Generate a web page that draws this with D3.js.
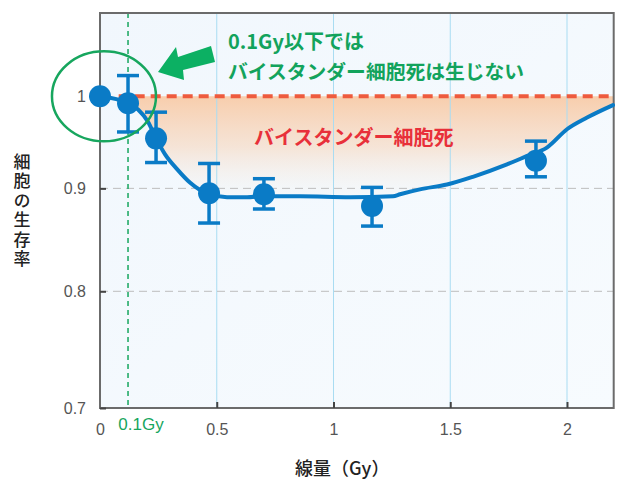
<!DOCTYPE html>
<html><head><meta charset="utf-8">
<script src="https://cdn.jsdelivr.net/npm/d3@7"></script>
<style>
html,body{margin:0;padding:0;background:#fff;}
svg{display:block;}
</style></head>
<body>
<script>
// ---- data ----
const xTicks = [0.5, 1, 1.5, 2];
const xTickLabels = ["0.5", "1", "1.5", "2"];
const yTicks = [1, 0.9, 0.8, 0.7];
const yTickLabels = ["1", "0.9", "0.8", "0.7"];
const pointDose = [0, 0.12, 0.24, 0.467, 0.702, 1.165, 1.867];
const pointSurv = [1.0, 0.992, 0.953, 0.895, 0.894, 0.882, 0.929];
const errLow  = [null, 0.960, 0.927, 0.865, 0.879, 0.862, 0.912];
const errHigh = [null, 1.024, 0.982, 0.926, 0.910, 0.901, 0.950];
const curveDose = [0, 0.12, 0.163, 0.206, 0.24, 0.278, 0.33, 0.385, 0.467, 0.544, 0.63, 0.698, 0.857, 1.071, 1.255, 1.285, 1.37, 1.486, 1.597, 1.743, 1.829, 1.914, 2.0, 2.086, 2.197];
const curveSurv = [1.0, 0.992, 0.985, 0.971, 0.953, 0.936, 0.920, 0.906, 0.894, 0.891, 0.891, 0.892, 0.892, 0.891, 0.892, 0.894, 0.899, 0.904, 0.912, 0.925, 0.934, 0.943, 0.963, 0.976, 0.990];
const thresholdDose = 0.12;
const thresholdLabel = "0.1Gy";
const noteLines = ["0.1Gy以下では", "バイスタンダー細胞死は生じない"];
const areaLabel = "バイスタンダー細胞死";
const yLabel = "細胞の生存率";
const xLabel = "線量（Gy）";

// ---- layout ----
const W = 622, H = 480;
const L = 100, R = 613.7, T = 13, B = 408;
const x = d3.scaleLinear().domain([0, 2.2]).range([L, R]);
const y = d3.scaleLog().domain([0.7, 1.1]).range([B, T]);

const svg = d3.select("body").append("svg").attr("width", W).attr("height", H);
const defs = svg.append("defs");
const bg = defs.append("linearGradient").attr("id","bg").attr("x1","0").attr("y1","0").attr("x2","1").attr("y2","1");
bg.append("stop").attr("offset","0").attr("stop-color","#f1f7fd");
bg.append("stop").attr("offset","1").attr("stop-color","#f7fbfe");
const fg = defs.append("linearGradient").attr("id","fillg").attr("gradientUnits","userSpaceOnUse")
  .attr("x1",0).attr("x2",0).attr("y1", y(1)).attr("y2", y(0.89));
fg.append("stop").attr("offset","0").attr("stop-color","#f8cba8").attr("stop-opacity",0.95);
fg.append("stop").attr("offset","0.5").attr("stop-color","#f6dfcd").attr("stop-opacity",0.8);
fg.append("stop").attr("offset","1").attr("stop-color","#f3f6f6").attr("stop-opacity",0.2);

const JP = "'Noto Sans CJK JP', 'Noto Sans', sans-serif";
const NUM = "'Liberation Sans', Arial, sans-serif";

// plot background
svg.append("rect").attr("x", L).attr("y", T).attr("width", R - L).attr("height", B - T).attr("fill", "url(#bg)");

// orange area between 1 and curve
const curveData = curveDose.map((d, i) => [d, curveSurv[i]]).filter(d => d[0] >= thresholdDose);
svg.append("path").datum(curveData)
  .attr("d", d3.area().x(d => x(d[0])).y0(y(1)).y1(d => y(d[1])).curve(d3.curveMonotoneX))
  .attr("fill", "url(#fillg)");

// vertical grid
svg.append("g").selectAll("line").data(xTicks).join("line")
  .attr("x1", d => x(d)).attr("x2", d => x(d)).attr("y1", T).attr("y2", B)
  .attr("stroke", "#a9dcf2").attr("stroke-width", 1);
// horizontal dashed grid
svg.append("g").selectAll("line").data([0.9, 0.8]).join("line")
  .attr("x1", L).attr("x2", R).attr("y1", d => y(d)).attr("y2", d => y(d))
  .attr("stroke", "#bdbdbd").attr("stroke-width", 1).attr("stroke-dasharray", "8,5");

// threshold line
svg.append("line").attr("x1", x(thresholdDose)).attr("x2", x(thresholdDose)).attr("y1", T).attr("y2", B)
  .attr("stroke", "#17a65e").attr("stroke-width", 1.5).attr("stroke-dasharray", "5,4");

// red dashed line at 1
svg.append("line").attr("x1", x(0.08)).attr("x2", R).attr("y1", y(1)).attr("y2", y(1))
  .attr("stroke", "#ee5b3e").attr("stroke-width", 4).attr("stroke-dasharray", "10,6");

// frame
svg.append("rect").attr("x", L).attr("y", T).attr("width", R - L).attr("height", B - T)
  .attr("fill", "none").attr("stroke", "#6b6b6b").attr("stroke-width", 2);

// axes (ticks inward)
const yAxis = d3.axisLeft(y).tickValues(yTicks).tickFormat((d, i) => yTickLabels[i]).tickSize(-6).tickPadding(14);
const gy = svg.append("g").attr("transform", `translate(${L},0)`).call(yAxis);
gy.select(".domain").remove();
gy.selectAll(".tick line").attr("stroke", "#444").attr("stroke-width", 2);
gy.selectAll(".tick text").attr("font-family", NUM).attr("font-size", 16).attr("fill", "#555");

const xAxis = d3.axisBottom(x).tickValues([0].concat(xTicks)).tickFormat((d, i) => ["0"].concat(xTickLabels)[i]).tickSize(-6).tickPadding(16);
const gx = svg.append("g").attr("transform", `translate(0,${B})`).call(xAxis);
gx.select(".domain").remove();
gx.selectAll(".tick line").attr("stroke", "#444").attr("stroke-width", 2);
gx.selectAll(".tick").filter(d => d === 0).select("line").remove();
gx.selectAll(".tick text").attr("font-family", NUM).attr("font-size", 16).attr("fill", "#555");

svg.append("text").attr("x", x(thresholdDose) + 13).attr("y", 424).attr("dy", "0.35em")
  .attr("text-anchor", "middle").attr("font-family", NUM).attr("font-size", 17).attr("fill", "#17a65e").text(thresholdLabel);

// curve
const curveAll = curveDose.map((d, i) => [d, curveSurv[i]]);
svg.append("path").datum(curveAll)
  .attr("d", d3.line().x(d => x(d[0])).y(d => y(d[1])).curve(d3.curveMonotoneX))
  .attr("fill", "none").attr("stroke", "#0a7bc6").attr("stroke-width", 4).attr("stroke-linejoin", "round").attr("stroke-linecap", "round");

// error bars
const eb = svg.append("g").attr("stroke", "#0a7bc6").attr("stroke-width", 3.5);
pointDose.forEach((d, i) => {
  if (errLow[i] == null) return;
  const cx = x(d);
  eb.append("line").attr("x1", cx).attr("x2", cx).attr("y1", y(errHigh[i])).attr("y2", y(errLow[i]));
  eb.append("line").attr("x1", cx - 11).attr("x2", cx + 11).attr("y1", y(errHigh[i])).attr("y2", y(errHigh[i]));
  eb.append("line").attr("x1", cx - 11).attr("x2", cx + 11).attr("y1", y(errLow[i])).attr("y2", y(errLow[i]));
});
// points
svg.append("g").selectAll("circle").data(pointDose).join("circle")
  .attr("cx", d => x(d)).attr("cy", (d, i) => y(pointSurv[i])).attr("r", 11).attr("fill", "#0a7bc6");

// green ellipse
svg.append("ellipse").attr("cx", x(0.017)).attr("cy", y(1)).attr("rx", 52).attr("ry", 45)
  .attr("fill", "none").attr("stroke", "#17a65e").attr("stroke-width", 2.5);

// green arrow
svg.append("path").attr("d", "M158,72 L176,47 L178,57 L211,46 L215,62 L183,70 L184,80 Z").attr("fill", "#0cb063");

// annotation texts
svg.append("text").attr("x", 228).attr("y", 42).attr("dy", "0.35em").attr("font-family", JP).attr("font-weight", 700)
  .attr("font-size", 20).attr("fill", "#12a35c").text(noteLines[0]);
svg.append("text").attr("x", 228).attr("y", 72).attr("dy", "0.35em").attr("font-family", JP).attr("font-weight", 700)
  .attr("font-size", 19.8).attr("fill", "#12a35c").text(noteLines[1]);
svg.append("text").attr("x", 254).attr("y", 138).attr("dy", "0.35em").attr("font-family", JP).attr("font-weight", 700)
  .attr("font-size", 20).attr("fill", "#e8303a").text(areaLabel);

// y label (vertical)
svg.append("text").attr("x", 22).attr("y", 153)
  .attr("writing-mode", "vertical-rl").attr("glyph-orientation-vertical", "0")
  .attr("letter-spacing", 2.5)
  .attr("font-family", JP).attr("font-weight", 500).attr("font-size", 17).attr("fill", "#222").text(yLabel);

// x label
svg.append("text").attr("x", 295).attr("y", 469).attr("dy", "0.35em").attr("font-family", JP).attr("font-weight", 500)
  .attr("font-size", 18).attr("fill", "#222").text(xLabel);
</script>
</body></html>
